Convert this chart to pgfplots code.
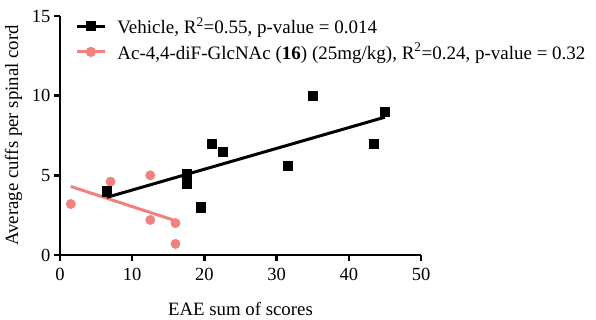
\documentclass[border=0pt]{standalone}
\usepackage{pgfplots}
\pgfplotsset{compat=1.18}
\usepackage{fontspec}
\setmainfont{Liberation Serif}
\definecolor{pinkc}{RGB}{241,128,126}
\begin{document}
\begin{tikzpicture}
\useasboundingbox (-60bp,-65bp) rectangle (536bp,255bp);
\begin{axis}[
  at={(0,0)}, anchor=south west,
  scale only axis, width=361bp, height=239bp,
  xmin=0, xmax=50, ymin=0, ymax=15,
  axis lines=left,
  axis line style={-, line width=2.5bp, black},
  xtick={0,10,20,30,40,50}, ytick={0,5,10,15},
  minor tick num=0,
  tick align=outside,
  major tick length=6bp,
  every tick/.style={black, line width=2.5bp},
  tick label style={font=\fontsize{18.5bp}{22bp}\selectfont},
  xticklabel style={yshift=-4bp},
  label style={font=\fontsize{18.8bp}{22bp}\selectfont},
  xlabel style={yshift=-14bp},
  ylabel style={yshift=3bp},
  /pgf/number format/assume math mode=true,
  xlabel={EAE sum of scores},
  ylabel={Average cuffs per spinal cord},
  clip=false,
  legend style={draw=none, fill=none, at={(axis description cs:0.042,1.0)}, anchor=north west,
    font=\fontsize{19bp}{23bp}\selectfont, inner sep=0pt, row sep=6bp,
    nodes={inner sep=1bp},
    /tikz/every odd column/.append style={column sep=10bp}},
  legend cell align=left,
]
% regression lines
\addplot[forget plot, pinkc, line width=3bp] coordinates {(1.5,4.3) (16,2.15)};
\addplot[forget plot, black, line width=3bp] coordinates {(6.5,3.62) (45,8.65)};
% data
\addplot[forget plot, only marks, mark=*, mark size=4.7bp, pinkc, mark options={draw=none, fill=pinkc}] coordinates {
(1.5,3.2) (7,4.6) (12.5,5.0) (12.5,2.2) (16,2.0) (16,0.7)};
\addplot[forget plot, only marks, mark=square*, mark size=4.6bp, black] coordinates {
(6.5,4.0) (17.5,5.1) (17.5,4.5) (19.5,3.0) (21,7.0) (22.5,6.5) (31.5,5.6) (35,10.0) (43.5,7.0) (45,9.0)};
\addlegendimage{black, line width=3bp, mark=square*, mark size=3.5bp,
  legend image code/.code={\draw[mark repeat=2,mark phase=2] plot coordinates {(0bp,0bp)(14bp,0bp)(28bp,0bp)};}}
\addlegendentry{Vehicle, R\textsuperscript{2}=0.55, p-value = 0.014}
\addlegendimage{pinkc, line width=3bp, mark=*, mark size=3.5bp, mark options={draw=none, fill=pinkc},
  legend image code/.code={\draw[mark repeat=2,mark phase=2] plot coordinates {(0bp,0bp)(14bp,0bp)(28bp,0bp)};}}
\addlegendentry{Ac-4,4-diF-GlcNAc (\textbf{16}) (25mg/kg), R\textsuperscript{2}=0.24, p-value = 0.32}
\end{axis}
\end{tikzpicture}
\end{document}
